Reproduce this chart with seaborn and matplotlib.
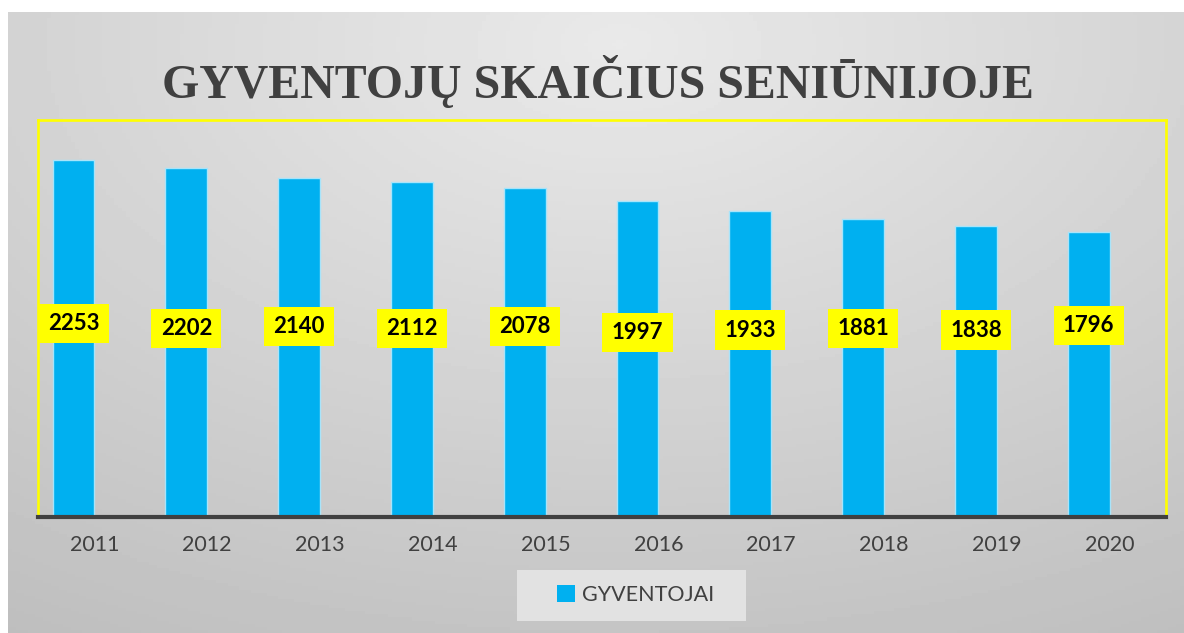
import numpy as np
import matplotlib
matplotlib.use('Agg')
from matplotlib import pyplot as plt
from matplotlib.patches import Patch, Rectangle
import seaborn as sns

# duomenys
years = ['2011', '2012', '2013', '2014', '2015', '2016', '2017', '2018', '2019', '2020']
residents = [2253, 2202, 2140, 2112, 2078, 1997, 1933, 1881, 1838, 1796]
series_name = 'GYVENTOJAI'
title = 'GYVENTOJŲ SKAIČIUS SENIŪNIJOJE'

# etikečių aukščiai (stilius)
label_y = [1222, 1190, 1203, 1190, 1203, 1165, 1178, 1190, 1178, 1209]
shift = -0.185  # stulpeliai pasislinkę į kairę nuo kategorijos centro

sns.set_theme(style='white')
plt.rcParams['font.family'] = ['Lato', 'DejaVu Sans']

W, H = 1184, 633
fig = plt.figure(figsize=(W / 100, H / 100), dpi=100)
fig.patch.set_facecolor('white')

# pilkas fonas su gradientu
bg = fig.add_axes([8 / W, 0, 1 - 8 / W, (H - 12) / H], zorder=0)
gx, gy = np.meshgrid(np.linspace(0, 1, 300), np.linspace(0, 1, 200))
dist = np.sqrt(((gx - 0.52) * 1.0) ** 2 + ((gy - 0.05) * 0.9) ** 2)
grad = 0.915 - 0.17 * np.clip(dist, 0, 1)
bg.imshow(grad, cmap='gray', vmin=0, vmax=1, aspect='auto', extent=[0, 1, 1, 0])
bg.set_axis_off()

ax = fig.add_axes([38 / W, (H - 517) / H, 1128 / W, 397 / H], zorder=1)
ax.patch.set_alpha(0)

sns.barplot(x=years, y=residents, color='#00B0F0', width=0.37, saturation=1,
            edgecolor='#A8E4FA', linewidth=1, ax=ax)
for p in ax.patches:
    p.set_x(p.get_x() + shift)

for i, v in enumerate(residents):
    ax.text(i + shift, label_y[i], str(v), ha='center', va='center', fontsize=16,
            fontweight='bold', color='black',
            bbox=dict(boxstyle='square,pad=0.42', facecolor='#FFFF00', edgecolor='none'))

ax.set_ylim(0, 2505)
ax.set_xlim(-0.5, len(years) - 0.5)
ax.set_yticks([])
ax.set_ylabel('')
ax.set_xlabel('')
ax.tick_params(axis='x', length=0, pad=13, labelsize=15.5, labelcolor='#404040')

for s in ['top', 'left', 'right']:
    ax.spines[s].set_visible(True)
    ax.spines[s].set_color('#FFFF00')
    ax.spines[s].set_linewidth(1.9)
ax.spines['bottom'].set_color('#404040')
ax.spines['bottom'].set_linewidth(3)

fig.text(598 / W, (H - 81) / H, title, ha='center', va='center', fontsize=34.5,
         fontweight='bold', color='#404040', family=['Liberation Serif', 'DejaVu Serif'])

# legendos fonas
fig.patches.append(Rectangle((517 / W, (H - 621) / H), 229 / W, 51 / H,
                             transform=fig.transFigure, facecolor='#E2E2E2',
                             edgecolor='none', zorder=2))
handle = Patch(facecolor='#00B0F0', edgecolor='none')
leg = fig.legend([handle], [series_name], loc='center', bbox_to_anchor=(636 / W, (H - 595) / H),
                 frameon=False, fontsize=15.5, handlelength=0.8, handleheight=0.8,
                 handletextpad=0.35, borderaxespad=0)
for t in leg.get_texts():
    t.set_color('#404040')
leg.set_zorder(5)

fig.savefig('out.png', dpi=100)
